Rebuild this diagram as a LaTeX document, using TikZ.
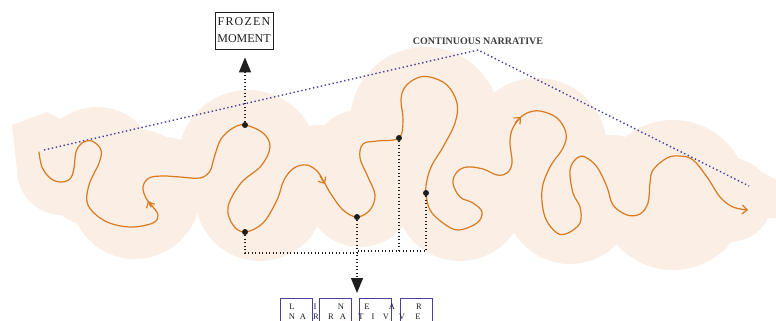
\documentclass[tikz,border=0pt]{standalone}
\usepackage{fontspec}
\setmainfont{Liberation Serif}
\usetikzlibrary{
  arrows.meta,
  positioning
}
\definecolor{Cloud}{HTML}{FAEEE5}
\definecolor{Trail}{HTML}{D97A1E}
\definecolor{Narr}{HTML}{46409A}
\definecolor{Ink}{HTML}{1E1E1E}
\tikzset{
  % The wandering story line
  trail/.style={draw=Trail, line width=1.2pt, line cap=round, line join=round},
  % Moment marker on the trail
  dot/.style={circle, fill=Ink, inner sep=0pt, minimum size=6pt},
  % Dotted guide lines
  guide/.style={draw=Ink, line width=1.2pt, dash pattern=on 1.2pt off 2.3pt},
  % Narrative chord
  narr/.style={draw=Narr, line width=1.4pt, dash pattern=on 1.4pt off 2.6pt},
  % Arrow tips
  bigtip/.style={-{Triangle[length=15pt,width=12pt]}},
  opentip/.style={-{Straight Barb[length=5pt,width=9pt]}},
  % Label box
  fbox/.style={
    draw=Ink, line width=0.8pt, align=center,
    font=\fontsize{12}{17}\selectfont, text=Ink,
    minimum width=58pt, minimum height=37pt, inner sep=0pt
  },
  % Letter box
  lbox/.style={draw=Narr, line width=1pt, minimum width=32pt, minimum height=40pt,
    anchor=north, inner sep=0pt},
  lch/.style={font=\fontsize{8.5}{8.5}\selectfont, text=Ink, inner sep=0pt},
  title/.style={font=\fontsize{10}{12}\selectfont\bfseries, text=Ink!85, inner sep=0pt}
}

\begin{document}
\begin{tikzpicture}[x=1pt, y=-1pt]
  \useasboundingbox (0,0) rectangle (776,321);

  % Cloud background
  \fill[Cloud] (12,125) -- (47,112) -- (62,120) -- (97,125) -- (97,170) -- (17,170) -- cycle;
  \fill[Cloud] (62,140) rectangle (700,205);
  \fill[Cloud] (700,160) -- (740,167) -- (747,163) -- (776,180) -- (776,218) -- (700,218) -- cycle;
  \foreach \cx/\cy/\r in {97/167/60, 165/177/40, 248/160/70, 318/165/40, 360/160/50,
      425/122/75, 537/148/70, 612/180/45, 673/195/75,
      62/170/45, 135/194/65, 260/196/65, 360/192/55, 460/196/65,
      570/199/65, 645/192/55, 730/200/42}
    \fill[Cloud] (\cx,\cy) circle[radius=\r];

  % Continuous narrative chord
  \coordinate (cl) at (44,150);
  \coordinate (peak) at (478,50);
  \coordinate (cr) at (749,186);
  \node[title, above=5pt of peak] (cn) {CONTINUOUS NARRATIVE};
  \draw[narr] (cl) -- (peak) -- (cr);

  % Trail
  \draw[trail, opentip] plot[smooth, tension=0.6] coordinates {
    (39,152) (42,167) (50,178) (60,182) (70,179) (74,168) (76,152) (82,143)
    (92,141) (101,150) (99,163) (89,185) (88,205) (105,221) (130,227)
    (153,223) (158,215) (153,207) (146,198) (143,187) (149,178) (163,176)
    (180,177) (200,178) (210,171) (214,158) (221,139) (233,128) (245,125)
    (263,133) (270,147) (261,166) (241,183) (228,207) (233,225) (245,232)
    (263,223) (277,200) (284,180) (294,168) (307,165) (318,172) (324,182)
    (331,194) (343,210) (357,217) (370,210) (375,195) (368,177) (360,158)
    (363,144) (377,141) (399,138) (403,120) (401,100) (405,87) (417,78)
    (430,77) (447,85) (457,103) (455,123) (443,147) (432,165) (427,180)
    (426,193) (430,210) (443,223) (458,230) (477,223) (482,212) (473,203)
    (460,197) (453,183) (457,172) (467,167) (483,169) (497,175) (507,173)
    (512,163) (510,143) (512,130) (519,119) (527,113) (540,111) (557,118)
    (566,133) (563,148) (550,167) (542,190) (545,217) (557,233) (568,233)
    (580,223) (580,207) (573,193) (570,170) (577,158) (585,157) (597,167)
    (607,187) (613,205) (627,215) (640,214) (648,203) (650,183) (653,170)
    (667,158) (680,156) (693,160) (707,177) (720,197) (733,207) (748,210)};
  \draw[trail, opentip] (151,207) -- (148,201);
  \draw[trail, opentip] (320,176) -- (325,184);
  \draw[trail, opentip] (515,123) -- (521,117);

  % Moments on the trail
  \node[dot] (m1) at (245,125) {};
  \node[dot] (b1) at (245,232) {};
  \node[dot] (b2) at (357,217) {};
  \node[dot] (b3) at (399,138) {};
  \node[dot] (b4) at (426,193) {};

  % Frozen moment
  \node[fbox] (fm) at (244,30.5) {{\addfontfeature{LetterSpace=10}FROZEN}\\MOMENT};
  \draw[guide, bigtip, shorten >=8pt] (m1) -- (m1 |- fm.south);

  % Gathering to the linear narrative
  \coordinate (j1) at (357,253);
  \coordinate (j2) at (358,251);
  \coordinate (j3) at (399,251);
  \coordinate (lin) at (357,293);
  \draw[guide] (b1) |- (j1);
  \draw[guide] (b3) |- (j2);
  \draw[guide] (b4) |- (j3);
  \draw[guide, bigtip] (b2) -- (lin);

  % Linear narrative boxes
  \foreach \cx [count=\i] in {296,335,375,416}
    \node[lbox] (lb\i) at (\cx,298) {};
  \foreach \x/\y/\c [count=\i] in {292/307/L, 315/307/I, 341/307/N, 367/307/E,
      392/307/A, 419/307/R,
      292/316.5/N, 303/316.5/A, 316/316.5/R, 331/316.5/R, 343/316.5/A, 361/316.5/T,
      373/316.5/I, 386/316.5/V, 402/316.5/V, 418/316.5/E}
    \node[lch] (ch\i) at (\x,\y) {\c};

\end{tikzpicture}
\end{document}
